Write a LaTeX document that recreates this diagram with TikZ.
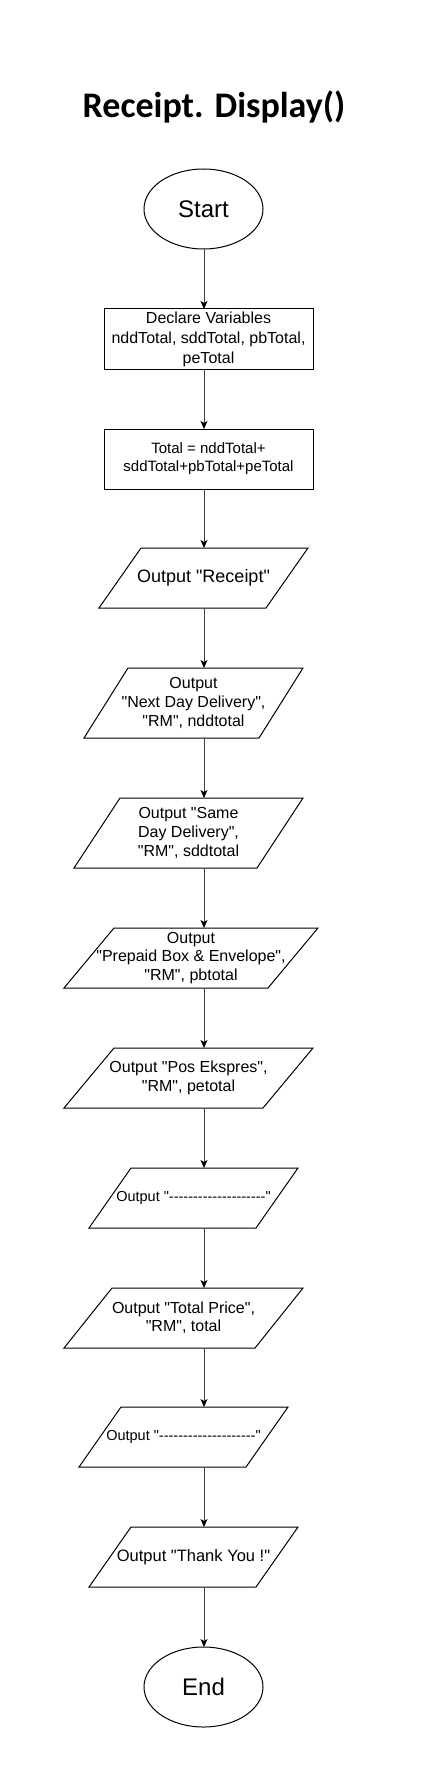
\documentclass[tikz,border=0pt]{standalone}
\usepackage{fontspec}
\newfontfamily\arialf{Liberation Sans}
\newfontfamily\calibf{Carlito}
\usetikzlibrary{arrows.meta,shapes.geometric}
\begin{document}
\begin{tikzpicture}[x=1pt,y=-1pt,
  base/.style={font=\arialf, align=center, inner sep=0pt, outer sep=0pt, line width=1pt},
  term/.style={base, draw, ellipse, minimum width=119pt, minimum height=80pt, font=\arialf\fontsize{24}{28}\selectfont},
  proc/.style={base, draw, rectangle, minimum width=209pt, minimum height=60pt},
  io/.style args={#1/#2/#3}{base, minimum width=#1pt, minimum height=#2pt,
     append after command={\pgfextra{\let\mn\tikzlastnode
       \draw[line width=1pt,line join=miter] ([xshift=#3pt]\mn.north west) -- (\mn.north east) -- ([xshift=-#3pt]\mn.south east) -- (\mn.south west) -- cycle;}}},
  fa/.style={font=\arialf\fontsize{16}{19}\selectfont},
  conn/.style={draw=black!75, line width=1pt, -{Stealth[length=8pt,width=7pt,inset=2pt,black]}}
]
\useasboundingbox (0,0) rectangle (436,1776);
\coordinate (ax) at (204,0);

\node[font=\calibf\bfseries\fontsize{36}{40}\selectfont, anchor=base] (title) at (214,118) {Receipt. Display()};

\node[term] (start) at (203.5,209) {Start};
\node[proc, font=\arialf\fontsize{16}{20}\selectfont] (decl) at (208.5,339) {Declare Variables\\nddTotal, sddTotal, pbTotal,\\peTotal};
\node[proc, font=\arialf\fontsize{15}{18}\selectfont] (tot) at (208.5,459) {Total = nddTotal+\\sddTotal+pbTotal+peTotal};
\node[io=209/60/42, font=\arialf\fontsize{18}{21}\selectfont] (rcpt) at (203.5,578) {Output "Receipt"};
\node[io=219/70/44, fa] (nd) at (193.5,703) {Output\\"Next Day Delivery",\\ "RM", nddtotal};
\node[io=229/70/46, fa] (sd) at (188.5,833) {Output "Same\\Day Delivery",\\ "RM", sddtotal};
\node[io=254/60/50, font=\arialf\fontsize{16}{18.5}\selectfont] (pb) at (191,958) {Output\\"Prepaid Box \& Envelope",\\ "RM", pbtotal};
\node[io=249/60/50, fa] (pe) at (188.5,1078) {Output "Pos Ekspres",\\ "RM", petotal};
\node[io=209/60/42, font=\arialf\fontsize{14.5}{17}\selectfont] (d1) at (193.5,1198) {Output "--------------------"};
\node[io=239/60/48, font=\arialf\fontsize{16}{18}\selectfont] (tp) at (183.5,1318) {Output "Total Price",\\ "RM", total};
\node[io=209/60/42, font=\arialf\fontsize{14.5}{17}\selectfont] (d2) at (183.5,1437) {Output "--------------------"};
\node[io=209/60/42, font=\arialf\fontsize{16.5}{19}\selectfont] (ty) at (193.5,1557) {Output "Thank You !"};
\node[term] (end) at (203.5,1687) {End};

\draw[conn] (start.south -| ax) -- (decl.north -| ax);
\draw[conn] (decl.south -| ax) -- (tot.north -| ax);
\draw[conn] (tot.south -| ax) -- (rcpt.north -| ax);
\draw[conn] (rcpt.south -| ax) -- (nd.north -| ax);
\draw[conn] (nd.south -| ax) -- (sd.north -| ax);
\draw[conn] (sd.south -| ax) -- (pb.north -| ax);
\draw[conn] (pb.south -| ax) -- (pe.north -| ax);
\draw[conn] (pe.south -| ax) -- (d1.north -| ax);
\draw[conn] (d1.south -| ax) -- (tp.north -| ax);
\draw[conn] (tp.south -| ax) -- (d2.north -| ax);
\draw[conn] (d2.south -| ax) -- (ty.north -| ax);
\draw[conn] (ty.south -| ax) -- (end.north -| ax);
\end{tikzpicture}
\end{document}
